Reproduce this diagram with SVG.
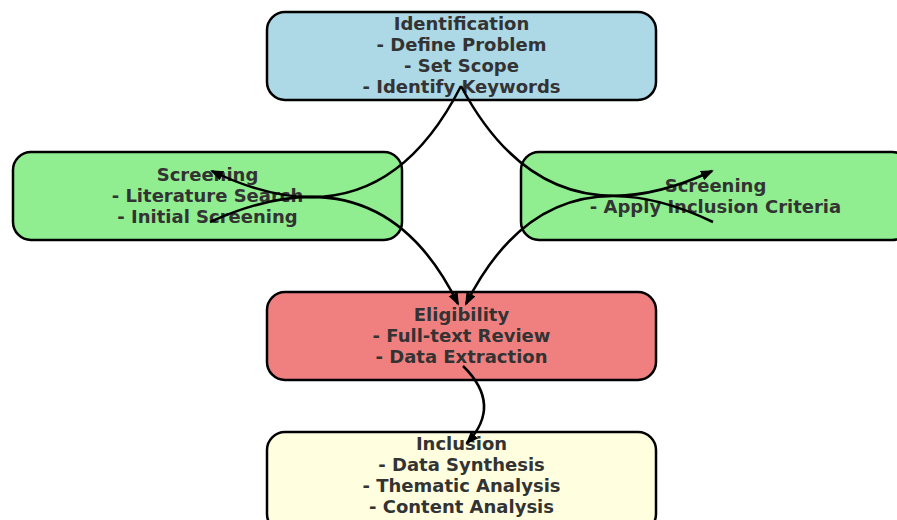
<svg xmlns="http://www.w3.org/2000/svg" width="897" height="520" viewBox="0 0 897 520">
<style>
.box{stroke:#000;stroke-width:2.5}
.t{font-family:"DejaVu Sans",sans-serif;font-weight:bold;font-size:18px;fill:#333;text-anchor:middle}
.e{fill:none;stroke:#000;stroke-width:2.5}
</style>
<defs>
<marker id="ah" markerUnits="userSpaceOnUse" markerWidth="14" markerHeight="12" refX="11" refY="5" orient="auto">
<path d="M0,0 L13,5 L0,10 z" fill="#000"/>
</marker>
</defs>
<rect width="897" height="520" fill="#fff"/>
<g id="identification">
<rect class="box" x="267" y="12" width="389" height="88" rx="18" fill="#add8e6"/>
<text class="t" x="461.5" y="29.5">Identification</text>
<text class="t" x="461.5" y="50.5">- Define Problem</text>
<text class="t" x="461.5" y="71.5">- Set Scope</text>
<text class="t" x="461.5" y="92.5">- Identify Keywords</text>
</g>
<g id="screening-left">
<rect class="box" x="13" y="152" width="389" height="88" rx="18" fill="#90ee90"/>
<text class="t" x="207.5" y="181">Screening</text>
<text class="t" x="207.5" y="202">- Literature Search</text>
<text class="t" x="207.5" y="223">- Initial Screening</text>
</g>
<g id="screening-right">
<rect class="box" x="521" y="152" width="389" height="88" rx="18" fill="#90ee90"/>
<text class="t" x="715.5" y="191.5">Screening</text>
<text class="t" x="715.5" y="212.5">- Apply Inclusion Criteria</text>
</g>
<g id="eligibility">
<rect class="box" x="267" y="292" width="389" height="88" rx="18" fill="#f08080"/>
<text class="t" x="461.5" y="321">Eligibility</text>
<text class="t" x="461.5" y="342">- Full-text Review</text>
<text class="t" x="461.5" y="363">- Data Extraction</text>
</g>
<g id="inclusion">
<rect class="box" x="267" y="432" width="389" height="100" rx="18" fill="#ffffe0"/>
<text class="t" x="461.5" y="450">Inclusion</text>
<text class="t" x="461.5" y="471">- Data Synthesis</text>
<text class="t" x="461.5" y="492">- Thematic Analysis</text>
<text class="t" x="461.5" y="513">- Content Analysis</text>
</g>
<g id="connectors">
<path class="e" d="M461,86 Q377,251 212,171" marker-end="url(#ah)"/>
<path class="e" d="M461,86 Q547,248 712,171" marker-end="url(#ah)"/>
<path class="e" d="M210,222 Q380,145 458,304" marker-end="url(#ah)"/>
<path class="e" d="M713,222 Q547,143 466,304" marker-end="url(#ah)"/>
<path class="e" d="M463,366 Q503,405 467,443" marker-end="url(#ah)"/>
</g>
</svg>
